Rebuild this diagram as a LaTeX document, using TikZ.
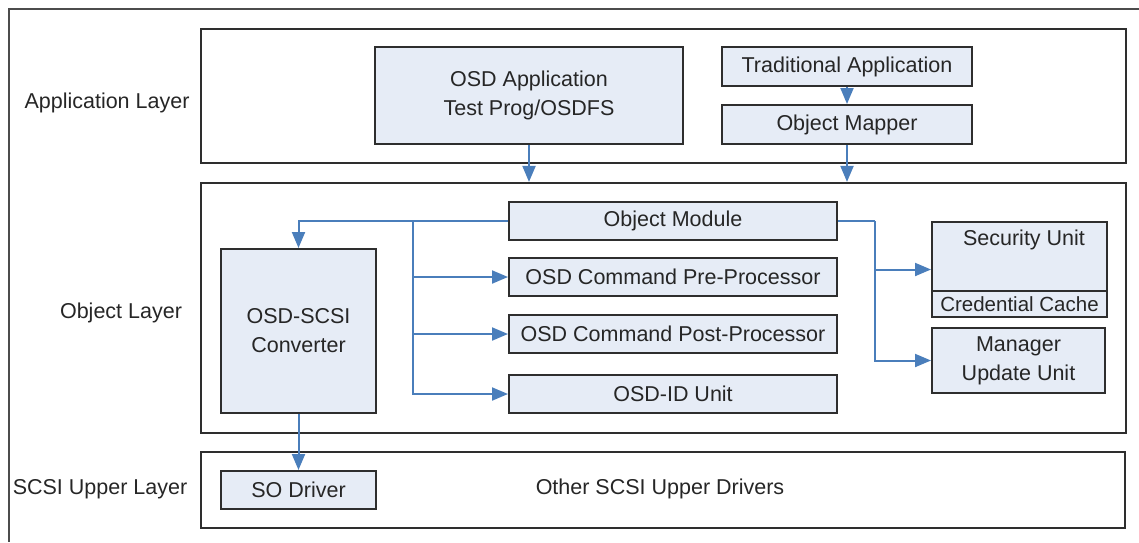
\documentclass[tikz,border=0pt]{standalone}
\usepackage{fontspec}
\setmainfont{Liberation Sans}
\usetikzlibrary{arrows.meta}
\definecolor{boxfill}{HTML}{E6ECF6}
\definecolor{linkblue}{HTML}{4A7EBB}
\definecolor{edge}{HTML}{2E2E2E}
\tikzset{
  layerbox/.style={draw=edge, line width=2.2pt, fill=white, inner sep=0pt},
  unitbox/.style={draw=edge, line width=2pt, fill=boxfill, inner sep=0pt,
    font=\fontsize{21.5}{29}\selectfont, align=center, text=black!85},
  layerlabel/.style={font=\fontsize{21.5}{29}\selectfont, text=black!85},
  plaintext/.style={font=\fontsize{21.5}{29}\selectfont, text=black!85},
  flow/.style={draw=linkblue, line width=2pt,
    -{Triangle[length=16pt,width=13pt]}},
  feed/.style={draw=linkblue, line width=2pt},
}
\begin{document}
\begin{tikzpicture}[x=1pt,y=-1pt]
\useasboundingbox (0,0) rectangle (1139,542);
% outer frame (runs off the right and bottom edges)
\draw[draw=black!70, line width=2.4pt] (1139,9) -- (9,9) -- (9,542);

% layer frames
\node[layerbox, minimum width=925pt, minimum height=134pt] (applayer) at (663.5,96) {};
\node[layerbox, minimum width=925pt, minimum height=250pt] (objlayer) at (663.5,308) {};
\node[layerbox, minimum width=924pt, minimum height=76pt] (scsilayer) at (663,490) {};

% layer names
\node[layerlabel] (lblapp) at (107,103) {Application Layer};
\node[layerlabel] (lblobj) at (121,313) {Object Layer};
\node[layerlabel] (lblscsi) at (100,489) {SCSI Upper Layer};

% application layer
\node[unitbox, minimum width=308pt, minimum height=97pt] (osdapp) at (529,95.5)
  {OSD Application\\Test Prog/OSDFS};
\node[unitbox, minimum width=250pt, minimum height=39pt] (tradapp) at (847,66.5)
  {Traditional Application};
\node[unitbox, minimum width=250pt, minimum height=39pt] (mapper) at (847,124.5)
  {Object Mapper};

% object layer
\node[unitbox, minimum width=328pt, minimum height=38pt] (objmod) at (673,221) {Object Module};
\node[unitbox, minimum width=328pt, minimum height=38pt] (pre) at (673,277) {OSD Command Pre-Processor};
\node[unitbox, minimum width=328pt, minimum height=38pt] (post) at (673,334) {OSD Command Post-Processor};
\node[unitbox, minimum width=328pt, minimum height=38pt] (osdid) at (673,394) {OSD-ID Unit};
\node[unitbox, minimum width=155pt, minimum height=164pt] (conv) at (298.5,331)
  {OSD-SCSI\\Converter};
\node[unitbox, minimum width=175pt, minimum height=95pt] (sec) at (1019.5,269.5) {};
\node[plaintext] (sectitle) at (1024,240) {Security Unit};
\node[unitbox, minimum width=175pt, minimum height=26pt] (cred) at (1019.5,304)
  {\fontsize{20.5}{24}\selectfont Credential Cache};
\node[unitbox, minimum width=173pt, minimum height=65pt] (mgr) at (1018.5,360.5)
  {Manager\\Update Unit};

% SCSI upper layer
\node[unitbox, minimum width=155pt, minimum height=38pt] (sodrv) at (298.5,490) {SO Driver};
\node[plaintext] (others) at (660,489) {Other SCSI Upper Drivers};

% connectors
\draw[flow] (tradapp.south) -- (mapper.north);
\draw[flow] (mapper.south) -- (mapper.south |- objlayer.north);
\draw[flow] (osdapp.south) -- (osdapp.south |- objlayer.north);

\coordinate (fanleft) at (413,221);
\coordinate (fanright) at (875,221);
\draw[flow] (objmod.west) -| (conv.north);
\draw[flow] (fanleft) |- (pre.west);
\draw[flow] (fanleft) |- (post.west);
\draw[flow] (fanleft) |- (osdid.west);
\draw[feed] (objmod.east) -- (fanright);
\draw[flow] (fanright) |- (sec.west);
\draw[flow] (fanright) |- (mgr.west);
\draw[flow] (conv.south) -- (sodrv.north);
\end{tikzpicture}
\end{document}
